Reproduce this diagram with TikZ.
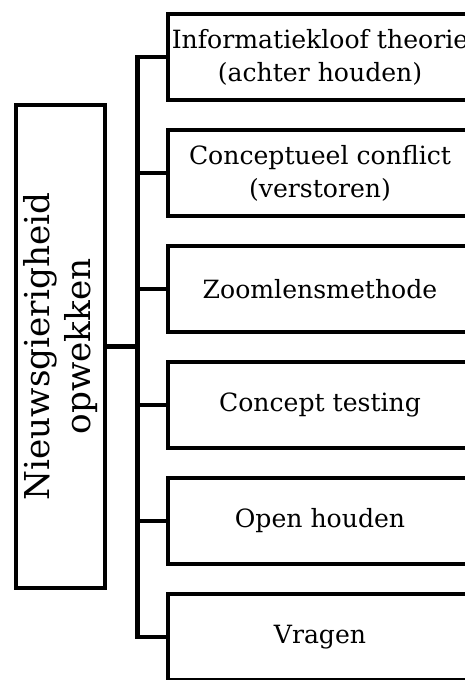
\documentclass[tikz,border=0pt]{standalone}
\usepackage{fontspec}
\newfontfamily\diagserif{DejaVu Serif}
\newcommand\branchfont{\diagserif\fontsize{14.3}{18.7}\selectfont}
\newcommand\rootfont{\diagserif\fontsize{19.5}{23.2}\selectfont}
\begin{document}
\begin{tikzpicture}[
    branch/.style={draw, line width=2.8pt, minimum width=6.08cm, minimum height=1.72cm,
                   align=center, inner sep=0pt, font=\branchfont},
    rootbox/.style={draw, line width=2.8pt, minimum width=9.66cm, minimum height=1.78cm,
                    align=center, inner sep=0pt, font=\rootfont, rotate=90},
    link/.style={line width=2.8pt}
  ]
        % Define dimensions
        \def\boxx{6.4}
        \def\firsty{-1.14}
        \def\pitch{2.32}
        \useasboundingbox (0,0) rectangle (9.3,-13.6);
        \clip (0,0) rectangle (9.3,-13.6);
        % Root box on the left (rotated, so south is its right side)
        \node[rootbox] (root) at (1.21,-6.93) {Nieuwsgierigheid\\opwekken};
        % Branch boxes on the right
        \foreach \txt [count=\i] in {{Informatiekloof theorie\\(achter houden)},
                                     {Conceptueel conflict\\(verstoren)},
                                     Zoomlensmethode,
                                     {Concept testing},
                                     {Open houden},
                                     Vragen}
            \node[branch] (b\i) at (\boxx,{\firsty-(\i-1)*\pitch}) {\txt};
        % Trunk and stubs
        \coordinate (trunk) at (2.75,0);
        \draw[link] (b1.west) -- (b1.west -| trunk) -- (b6.west -| trunk) -- (b6.west);
        \foreach \i in {2,...,5}
            \draw[link] (b\i.west -| trunk) -- (b\i.west);
        \draw[link] (root.south) -- (root.south -| trunk);
    \end{tikzpicture}
\end{document}
